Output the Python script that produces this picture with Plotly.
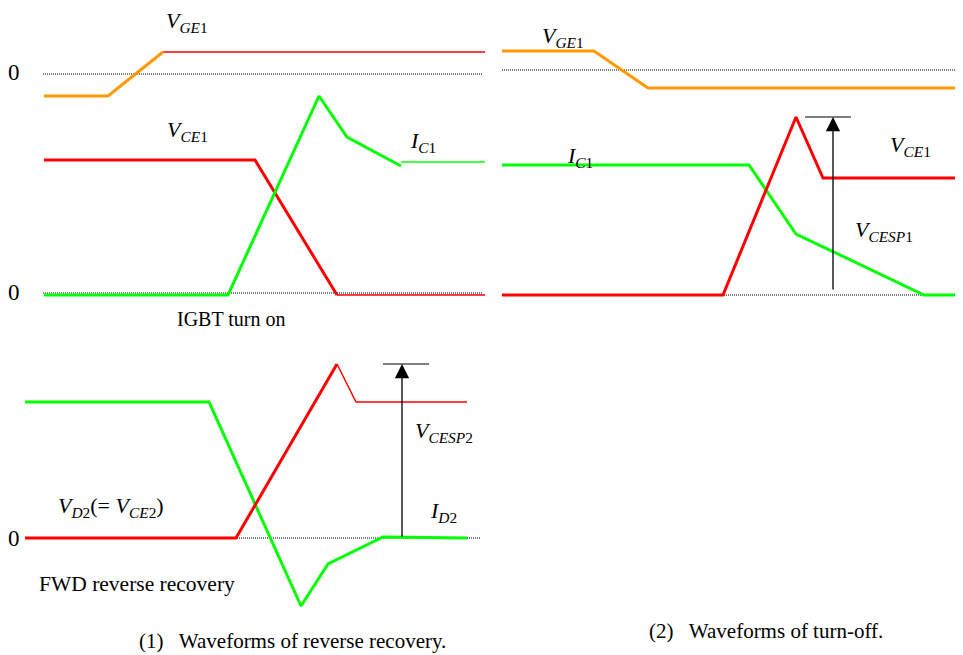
import plotly.graph_objects as go

# Reference canvas size and page offset (browser body margin)
W, H = 963, 655
OFF = 8
FW, FH = W - OFF, H - OFF

# ---------------- Data (time in a.u., level in a.u. relative to each zero line) -------------
# Panel (1a): IGBT turn on
on_vge_t = [0, 64, 119]
on_vge_v = [-22, -22, 22]
on_vge_hi_t = [119, 441]
on_vge_hi_v = [22, 22]
on_vce_t = [0, 211, 293]
on_vce_v = [133, 133, -2]
on_vce_tail_t = [293, 441]
on_vce_tail_v = [-2, -2]
on_ic_t = [0, 184, 275, 303, 357]
on_ic_v = [-2, -2, 197, 156, 127]
on_ic_tail_t = [357, 441]
on_ic_tail_v = [131, 131]
on_zero_t = [-1, 438]

# Panel (2): turn-off
off_vge_t = [0, 92, 146, 461]
off_vge_v = [19, 19, -18, -18]
off_ic_t = [0, 247, 294, 422, 461]
off_ic_v = [130, 130, 61, 0, 0]
off_vce_t = [0, 221, 294, 321, 461]
off_vce_v = [0, 0, 178, 117, 117]
off_zero_t = [0, 461]
off_peak_t = [303, 349]
off_arrow_t = 331
off_arrow_base = 4
off_peak_v = 178

# Panel (1b): FWD reverse recovery
rr_id_t = [0, 184, 276, 303, 358, 442]
rr_id_v = [136, 136, -68, -26, 1, 0]
rr_vd_t = [0, 211, 312]
rr_vd_v = [0, 0, 174]
rr_vd_tail_t = [312, 331, 442]
rr_vd_tail_v = [174, 136, 136]
rr_zero_t = [18, 455]
rr_peak_t = [358, 404]
rr_arrow_t = 377
rr_peak_v = 174

RED = "#ff0000"
GREEN = "#00ff00"
ORANGE = "#ff9900"

fig = go.Figure()


def line(t, v, color, width, xa, ya, dash="solid"):
    fig.add_trace(go.Scatter(x=t, y=v, mode="lines", xaxis=xa, yaxis=ya,
                             line=dict(color=color, width=width, dash=dash),
                             hoverinfo="skip", showlegend=False))


DOT = "1px,1px"
# Panel 1a
line(on_zero_t, [0, 0], "black", 1, "x", "y2", DOT)
line(on_zero_t, [0, 0], "black", 1, "x", "y", DOT)
line(on_vge_hi_t, on_vge_hi_v, RED, 1.5, "x", "y2")
line(on_vge_t, on_vge_v, ORANGE, 3, "x", "y2")
line(on_vce_tail_t, on_vce_tail_v, RED, 1.5, "x", "y")
line(on_vce_t, on_vce_v, RED, 3, "x", "y")
line(on_ic_tail_t, on_ic_tail_v, GREEN, 1.5, "x", "y")
line(on_ic_t, on_ic_v, GREEN, 3, "x", "y")

# Panel 2
line(off_zero_t, [0, 0], "black", 1, "x2", "y4", DOT)
line(off_zero_t, [0, 0], "black", 1, "x2", "y3", DOT)
line(off_vge_t, off_vge_v, ORANGE, 3, "x2", "y4")
line(off_ic_t, off_ic_v, GREEN, 3, "x2", "y3")
line(off_vce_t, off_vce_v, RED, 3, "x2", "y3")
line(off_peak_t, [off_peak_v, off_peak_v], "black", 1.2, "x2", "y3")

# Panel 1b
line(rr_zero_t, [0, 0], "black", 1, "x3", "y5", DOT)
line(rr_vd_tail_t, rr_vd_tail_v, RED, 1.5, "x3", "y5")
line(rr_id_t, rr_id_v, GREEN, 3, "x3", "y5")
line(rr_vd_t, rr_vd_v, RED, 3, "x3", "y5")
line(rr_peak_t, [rr_peak_v, rr_peak_v], "black", 1.2, "x3", "y5")


def xdom(px0, px1, zero):
    return dict(domain=[(px0 - OFF) / FW, (px1 - OFF) / FW], range=[px0 - zero, px1 - zero])


def ydom(top, bottom, zero):
    return dict(domain=[1 - (bottom - OFF) / FH, 1 - (top - OFF) / FH],
                range=[zero - bottom, zero - top])


hidden = dict(visible=False, showgrid=False, zeroline=False, fixedrange=True)

fig.update_layout(
    width=FW, height=FH, margin=dict(l=0, r=0, t=0, b=0),
    paper_bgcolor="white", plot_bgcolor="white", showlegend=False,
    xaxis=dict(**hidden, **xdom(8, 485, 44), anchor="y"),
    yaxis=dict(**hidden, **ydom(8, 330, 293), anchor="x"),
    yaxis2=dict(**hidden, **ydom(8, 330, 74), anchor="x", overlaying="y"),
    xaxis2=dict(**hidden, **xdom(485, 963, 502), anchor="y3"),
    yaxis3=dict(**hidden, **ydom(8, 330, 295), anchor="x2"),
    yaxis4=dict(**hidden, **ydom(8, 330, 70), anchor="x2", overlaying="y3"),
    xaxis3=dict(**hidden, **xdom(8, 485, 25), anchor="y5"),
    yaxis5=dict(**hidden, **ydom(330, 655, 538), anchor="x3"),
)

# arrows (V_CESP)
for xa, ya, t, v0, v1 in [("x2", "y3", off_arrow_t, off_arrow_base, off_peak_v),
                          ("x3", "y5", rr_arrow_t, 0, rr_peak_v)]:
    fig.add_annotation(x=t, y=v1, ax=t, ay=v0, xref=xa, yref=ya, axref=xa, ayref=ya,
                       showarrow=True, arrowhead=2, arrowsize=2.2, arrowwidth=1.3,
                       arrowcolor="black", text="", standoff=0, startstandoff=0)

SERIF = "Liberation Serif"


def label(px, py, text, size=22, anchor="left"):
    fig.add_annotation(x=(px - OFF) / FW, y=1 - (py - OFF) / FH, xref="paper", yref="paper",
                       text=text, showarrow=False, xanchor=anchor, yanchor="middle",
                       font=dict(family=SERIF, size=size, color="black"))


label(14, 72, "0", 23, "center")
label(14, 292, "0", 23, "center")
label(14, 538, "0", 23, "center")
label(164, 22, "<i>V</i><sub><i>GE</i>1</sub>")
label(165, 131, "<i>V</i><sub><i>CE</i>1</sub>")
label(408, 142, "<i>I</i><sub><i>C</i>1</sub>")
label(175, 319, "IGBT turn on", 20)
label(540, 37, "<i>V</i><sub><i>GE</i>1</sub>")
label(565, 157, "<i>I</i><sub><i>C</i>1</sub>")
label(888, 146, "<i>V</i><sub><i>CE</i>1</sub>")
label(853, 231, "<i>V</i><sub><i>CESP</i>1</sub>")
label(413, 432, "<i>V</i><sub><i>CESP</i>2</sub>")
label(56, 507, "<i>V</i><sub><i>D</i>2</sub>(= <i>V</i><sub><i>CE</i>2</sub>)")
label(428, 512, "<i>I</i><sub><i>D</i>2</sub>")
label(37, 584, "FWD reverse recovery", 21.5)
label(137, 641, "(1)&nbsp;&nbsp; Waveforms of reverse recovery.", 21)
label(647, 631, "(2)&nbsp;&nbsp; Waveforms of turn-off.", 21)

fig.write_html("out.html")
